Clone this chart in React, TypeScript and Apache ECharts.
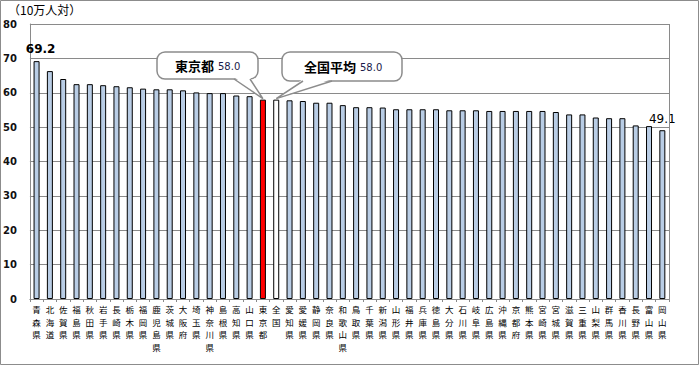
import React, { useEffect, useRef } from "react";
import * as echarts from "echarts";

const categories = [
  "青森県", "北海道", "佐賀県", "福島県", "秋田県", "岩手県", "長崎県", "栃木県",
  "福岡県", "鹿児島県", "茨城県", "大阪府", "埼玉県", "神奈川県", "島根県", "高知県",
  "山口県", "東京都", "全国", "愛知県", "愛媛県", "静岡県", "奈良県", "和歌山県",
  "鳥取県", "千葉県", "新潟県", "山形県", "福井県", "兵庫県", "徳島県", "大分県",
  "石川県", "岐阜県", "広島県", "沖縄県", "京都府", "熊本県", "宮崎県", "宮城県",
  "滋賀県", "三重県", "山梨県", "群馬県", "香川県", "長野県", "富山県", "岡山県",
];

const values = [
  69.2, 66.3, 64.0, 62.5, 62.5, 62.2, 61.9, 61.6,
  61.2, 61.0, 61.0, 60.7, 60.1, 59.9, 59.9, 59.2,
  59.0, 58.0, 58.0, 57.8, 57.6, 57.1, 57.1, 56.4,
  55.8, 55.8, 55.7, 55.2, 55.2, 55.2, 55.2, 54.9,
  54.9, 54.9, 54.7, 54.7, 54.7, 54.7, 54.7, 54.4,
  53.7, 53.7, 52.8, 52.6, 52.6, 50.5, 50.3, 49.1,
];

const yTicks = [0, 10, 20, 30, 40, 50, 60, 70, 80];
const unitLabel = "（10万人対）";
const tokyoName = "東京都";
const nationName = "全国";
const tokyoCallout = "東京都";
const nationCallout = "全国平均";

const JP = '"Noto Sans CJK JP", "Noto Sans", sans-serif';
const BAR_BLUE = "#B9CDE5";
const GRID_GRAY = "#8a8a8a";

export default function App() {
  const ref = useRef<HTMLDivElement>(null);

  useEffect(() => {
    if (!ref.current) return;
    const chart = echarts.init(ref.current, undefined, { renderer: "svg" });
    const lastIdx = values.length - 1;

    const data = values.map((v, i) => {
      const name = categories[i];
      const item: any = { value: v };
      if (name === tokyoName) {
        item.itemStyle = { color: "#FF0000", borderColor: "#000", borderWidth: 1 };
      } else if (name === nationName) {
        item.itemStyle = { color: "#FFFFFF", borderColor: "#000", borderWidth: 1 };
      }
      if (i === 0) {
        item.label = {
          show: true,
          position: "top",
          distance: 6,
          offset: [4, 0],
          fontWeight: "bold",
          fontSize: 12,
          color: "#000",
          fontFamily: "Verdana, 'DejaVu Sans', sans-serif",
        };
      }
      if (i === lastIdx) {
        item.label = {
          show: true,
          position: "top",
          distance: 5,
          offset: [0, 0],
          fontSize: 12,
          color: "#000",
          fontFamily: "Verdana, 'DejaVu Sans', sans-serif",
        };
      }
      return item;
    });

    chart.setOption({
      animation: false,
      backgroundColor: "#fff",
      grid: { left: 27, right: 31, top: 24, bottom: 67, show: false },
      xAxis: {
        type: "category",
        data: categories,
        axisLine: { show: true, lineStyle: { color: GRID_GRAY, width: 1 } },
        axisTick: { show: true, alignWithLabel: false, length: 3, lineStyle: { color: GRID_GRAY } },
        axisLabel: {
          interval: 0,
          margin: 4,
          fontSize: 8.5,
          lineHeight: 12.5,
          color: "#000",
          fontFamily: JP,
          verticalAlign: "top",
          formatter: (s: string) => s.split("").join("\n"),
        },
      },
      yAxis: {
        type: "value",
        min: 0,
        max: 80,
        interval: 10,
        axisLine: { show: true, lineStyle: { color: GRID_GRAY } },
        axisTick: { show: false },
        splitLine: { show: true, lineStyle: { color: GRID_GRAY, width: 1 } },
        axisLabel: {
          margin: 13,
          fontSize: 10,
          fontWeight: "bold",
          color: "#111",
          fontFamily: "Verdana, 'DejaVu Sans', sans-serif",
          formatter: (v: number) => (yTicks.includes(v) ? String(v) : ""),
        },
      },
      series: [
        {
          type: "bar",
          data,
          barWidth: 6,
          itemStyle: { color: BAR_BLUE, borderColor: "#000", borderWidth: 1 },
        },
      ],
    });

    const tIdx = categories.indexOf(tokyoName);
    const nIdx = categories.indexOf(nationName);
    const tTip = chart.convertToPixel({ gridIndex: 0 }, [tIdx, values[tIdx]]) as number[];
    const nTip = chart.convertToPixel({ gridIndex: 0 }, [nIdx, values[nIdx]]) as number[];
    const pr = chart.convertToPixel({ gridIndex: 0 }, [lastIdx, 80]) as number[];
    const plotTop = pr[1];
    const plotRight = 669;

    const callout = (
      bx: number, by: number, bw: number, bh: number,
      baseL: number, baseR: number, tip: number[],
      title: string, valText: string, titleX: number, valX: number
    ) => {
      const bottom = by + bh;
      return [
        {
          type: "rect",
          shape: { x: bx, y: by, width: bw, height: bh, r: 8 },
          style: { fill: "#fff", stroke: "#8c8c8c", lineWidth: 1.5 },
          z: 100,
        },
        {
          type: "polygon",
          shape: { points: [[baseL, bottom - 2], [baseR, bottom - 2], [tip[0], tip[1] - 1]] },
          style: { fill: "#fff", stroke: null },
          z: 101,
        },
        {
          type: "polyline",
          shape: { points: [[baseL, bottom], [tip[0], tip[1] - 1], [baseR, bottom]] },
          style: { fill: null, stroke: "#8c8c8c", lineWidth: 1.5 },
          z: 102,
        },
        {
          type: "text",
          x: titleX,
          y: by + bh / 2,
          style: {
            text: title,
            font: `bold 13px ${JP}`,
            fill: "#000",
            verticalAlign: "middle",
          },
          z: 103,
        },
        {
          type: "text",
          x: valX,
          y: by + bh / 2 + 1,
          style: {
            text: valText,
            font: "10px Verdana, 'DejaVu Sans', sans-serif",
            fill: "#1a1a4a",
            verticalAlign: "middle",
          },
          z: 103,
        },
      ];
    };

    chart.setOption({
      graphic: [
        {
          type: "line",
          shape: { x1: plotRight + 0.5, y1: plotTop, x2: plotRight + 0.5, y2: 299 },
          style: { stroke: GRID_GRAY, lineWidth: 1 },
          z: 50,
        },
        {
          type: "rect",
          shape: { x: 0.5, y: 0.5, width: 698, height: 364 },
          style: { fill: null, stroke: "#8c8c8c", lineWidth: 1 },
          z: 200,
        },
        {
          type: "text",
          x: 8,
          y: 3,
          style: { text: unitLabel, font: `12px ${JP}`, fill: "#000" },
          z: 100,
        },
        ...callout(157, 52, 101, 27, 234, 250, tTip, tokyoCallout, values[tIdx].toFixed(1), 175, 218),
        ...callout(282, 52, 120, 29, 303, 332, nTip, nationCallout, values[nIdx].toFixed(1), 304, 360),
      ],
    });

    return () => chart.dispose();
  }, []);

  return (
    <div
      ref={ref}
      style={{ position: "fixed", left: 0, top: 0, width: 700, height: 366 }}
    />
  );
}
